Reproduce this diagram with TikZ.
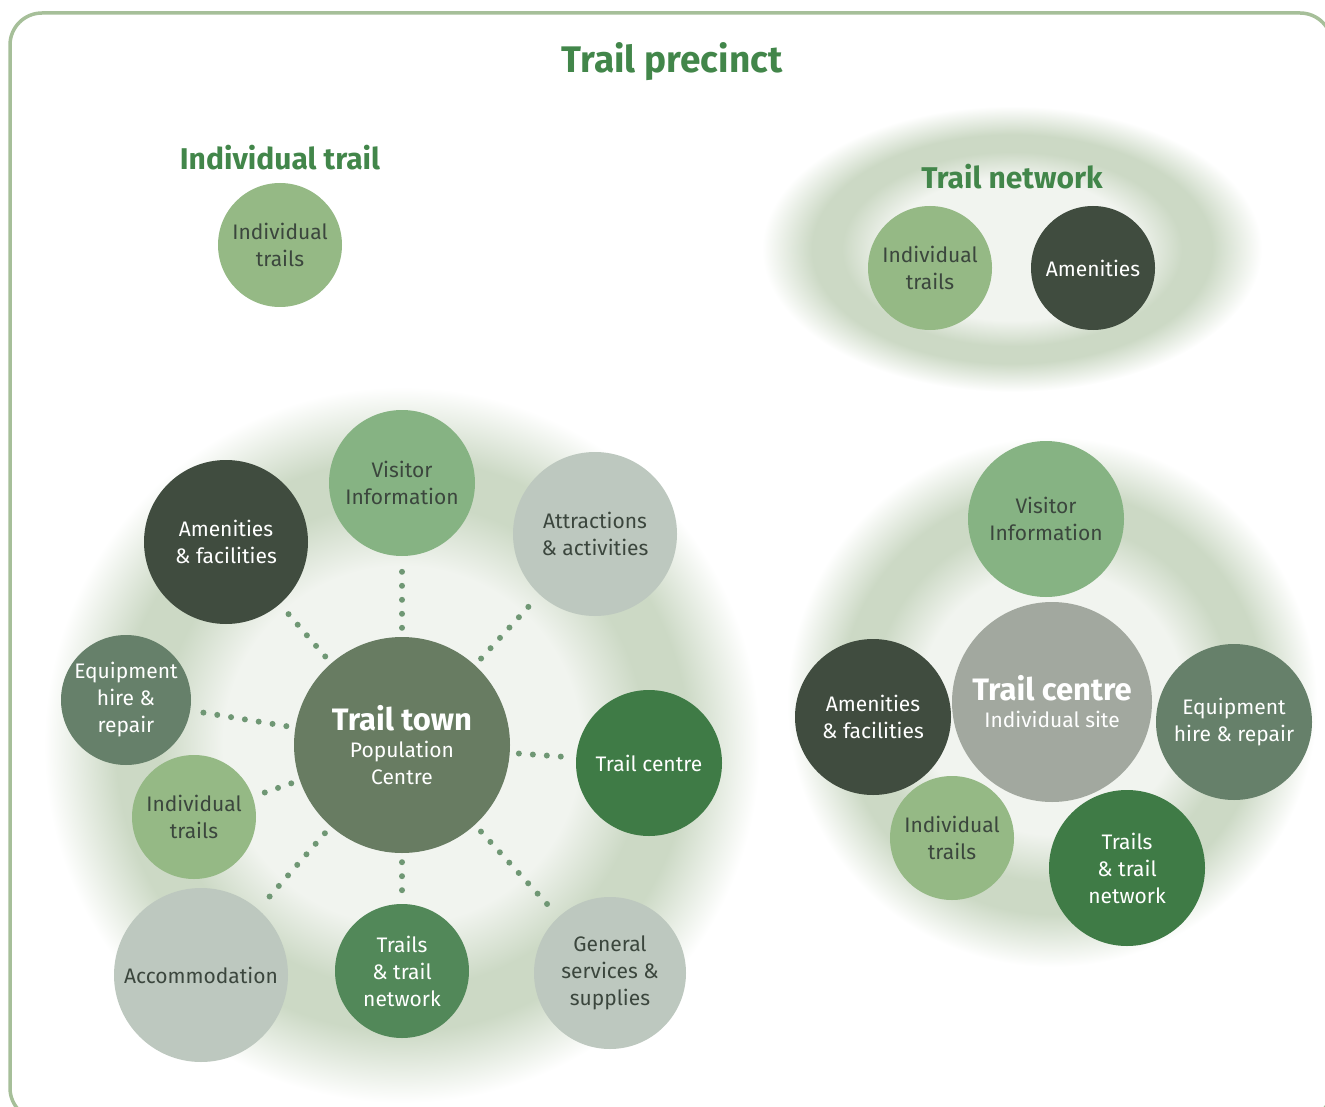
\documentclass[tikz,border=0pt]{standalone}
\usepackage{fontspec}
\setmainfont{Fira Sans}
\definecolor{framegreen}{HTML}{A6BF99}
\definecolor{headgreen}{HTML}{42864A}
\definecolor{haloin}{HTML}{F1F4EF}
\definecolor{halomid}{HTML}{CCD9C5}
\definecolor{palegreen}{HTML}{95B985}
\definecolor{visitgreen}{HTML}{86B383}
\definecolor{darkamen}{HTML}{404C3F}
\definecolor{equipgreen}{HTML}{66806A}
\definecolor{softgray}{HTML}{BDC8BF}
\definecolor{deepgreen}{HTML}{3F7B46}
\definecolor{townfill}{HTML}{687C62}
\definecolor{centrefill}{HTML}{A2A89F}
\definecolor{dotgreen}{HTML}{6F9774}
\definecolor{inktext}{HTML}{3B463D}
\pgfdeclareradialshading{halo}{\pgfpoint{0bp}{0bp}}{color(0bp)=(haloin); color(12.5bp)=(haloin); color(17bp)=(halomid); color(20bp)=(halomid); color(25bp)=(white); color(50bp)=(white)}
\begin{document}
\begin{tikzpicture}[x=1pt,y=1pt,yscale=-1,
  blob/.style={circle,inner sep=0pt,align=center,font=\fontsize{21}{27}\selectfont},
  darktext/.style={blob,text=inktext},
  lighttext/.style={blob,text=white},
  heading/.style={font=\fontsize{30}{34}\selectfont\bfseries,text=headgreen},
  dotline/.style={dotgreen,line width=6pt,line cap=round,dash pattern=on 0pt off 14pt,shorten <=9pt,shorten >=9pt}]
\useasboundingbox (0,0) rectangle (1325,1107);

% Frame
\begin{scope}
\clip (0,0) rectangle (1325,1107);
\draw[framegreen,line width=3.5pt,rounded corners=32pt] (10,13) rectangle (1332,1120);
\end{scope}

% Halo
\shade[shading=halo] (1012,249) ellipse (250 and 143);
% Halo
\shade[shading=halo] (402,745) circle (358);
% Halo
\shade[shading=halo] (1052,702) circle (265);

% Text Node
\node[heading,font=\fontsize{37}{40}\selectfont\bfseries] (title) at (672,62) {Trail precinct};
% Text Node
\node[heading] (indhead) at (280,158) {Individual trail};
% Text Node
\node[heading] (nethead) at (1012,177) {Trail network};

% Individual trail
\node[darktext,fill=palegreen,minimum size=124] (solo) at (280,245) {Individual\\trails};

% Trail network
\node[darktext,fill=palegreen,minimum size=124] (netind) at (930,268) {Individual\\trails};
\node[lighttext,fill=darkamen,minimum size=124] (netamen) at (1093,268) {Amenities};

% Trail town
\node[lighttext,fill=townfill,minimum size=216] (town) at (402,745) {{\fontsize{31}{36}\selectfont\bfseries Trail town}\\Population\\Centre};
\node[darktext,fill=visitgreen,minimum size=146] (townvisit) at (402,483) {Visitor\\Information};
\node[darktext,fill=softgray,minimum size=164] (townattr) at (595,534) {Attractions\\\& activities};
\node[lighttext,fill=darkamen,minimum size=164] (townamen) at (226,542) {Amenities\\\& facilities};
\node[lighttext,fill=equipgreen,minimum size=130] (townequip) at (126,700) {Equipment\\hire \&\\repair};
\node[darktext,fill=palegreen,minimum size=124] (townind) at (194,817) {Individual\\trails};
\node[lighttext,fill=deepgreen,minimum size=146] (towncentre) at (649,763) {Trail centre};
\node[darktext,fill=softgray,minimum size=174] (townacc) at (201,975) {Accommodation};
\node[lighttext,fill=deepgreen!90!white,minimum size=134] (towntrails) at (402,971) {Trails\\\& trail\\network};
\node[darktext,fill=softgray,minimum size=152] (townserv) at (610,973) {General\\services \&\\supplies};

% Connection
\draw[dotline] (town) -- (townvisit);
\draw[dotline] (town) -- (townattr);
\draw[dotline] (town) -- (townamen);
\draw[dotline] (town) -- (townequip);
\draw[dotline] (town) -- (townind);
\draw[dotline] (town) -- (towncentre);
\draw[dotline] (town) -- (townacc);
\draw[dotline] (town) -- (towntrails);
\draw[dotline] (town) -- (townserv);

% Trail centre
\node[darktext,fill=visitgreen,minimum size=156] (centvisit) at (1046,519) {Visitor\\Information};
\node[lighttext,fill=centrefill,minimum size=200] (centre) at (1052,702) {{\fontsize{31}{34}\selectfont\bfseries Trail centre}\\Individual site};
\node[lighttext,fill=darkamen,minimum size=156] (centamen) at (873,717) {Amenities\\\& facilities};
\node[lighttext,fill=equipgreen,minimum size=156] (centequip) at (1234,722) {Equipment\\hire \& repair};
\node[darktext,fill=palegreen,minimum size=124] (centind) at (952,838) {Individual\\trails};
\node[lighttext,fill=deepgreen,minimum size=156] (centtrails) at (1127,868) {Trails\\\& trail\\network};

\end{tikzpicture}
\end{document}
